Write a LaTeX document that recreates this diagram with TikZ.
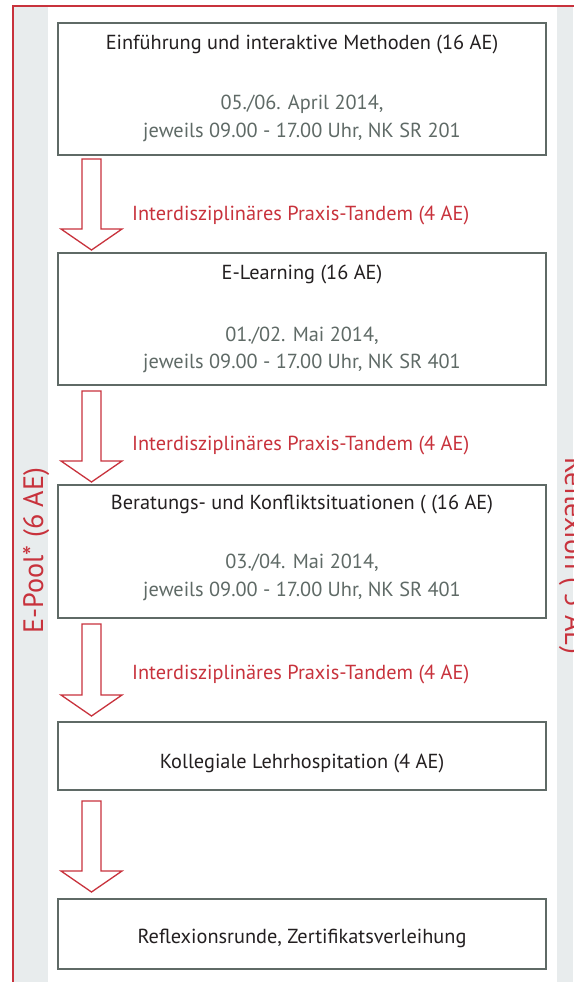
\documentclass[tikz,border=0pt]{standalone}
\usepackage{fontspec}
\setmainfont{PT Sans}
\usetikzlibrary{calc}
\definecolor{fred}{HTML}{C8323C}
\definecolor{bgray}{HTML}{5F6A66}
\definecolor{band}{HTML}{E8ECED}
\definecolor{ink}{HTML}{231F20}
\newlength\calw
\AtBeginDocument{%
  \settowidth\calw{\fontsize{20}{24}\selectfont Einführung und interaktive Methoden (16 AE)jeweils 09.00 - 17.00 Uhr, NK SR 201}%
  \pgfmathsetmacro\fsmain{20*710/\calw}\global\let\fsmain\fsmain
  \settowidth\calw{\fontsize{20}{24}\selectfont E-Pool* (6 AE)Reflexion ( 5 AE)}%
  \pgfmathsetmacro\fsside{20*363/\calw}\global\let\fsside\fsside}
\newcommand\flowarrow[4]{%
  \path ($(#1.south west)+(24.5,#3)$) coordinate (#1-sa)
        ($(#1.south west)+(43.5,#3)$) coordinate (#1-sb)
        ($(#2.north west)+(34,-#4)$) coordinate (#1-tip);
  \draw[blockarr] (#1-sa) -- ($(#1-tip)+(-9.5,-21)$) -- ($(#1-tip)+(-30.5,-21)$)
     -- (#1-tip) -- ($(#1-tip)+(30.5,-21)$) -- ($(#1-tip)+(9.5,-21)$) -- (#1-sb) -- cycle;}
\begin{document}
\begin{tikzpicture}[x=1pt,y=-1pt,
  box/.style={draw=bgray,line width=2pt,fill=white,minimum width=488.5pt,
    inner sep=0pt,outer sep=0pt,anchor=north west},
  ttl/.style={font=\fontsize{\fsmain}{\fsmain}\selectfont,text=ink,anchor=base,inner sep=0pt},
  dat/.style={font=\fontsize{\fsmain}{\fsmain}\selectfont,text=bgray,anchor=base,inner sep=0pt},
  lbl/.style={font=\fontsize{\fsmain}{\fsmain}\selectfont,text=fred,anchor=base west,inner sep=0pt},
  side/.style={font=\fontsize{\fsside}{\fsside}\selectfont,text=fred,anchor=base,inner sep=0pt},
  blockarr/.style={draw=fred,line width=1.3pt,fill=white,line join=miter}]
\useasboundingbox (0,0) rectangle (573,982);
\fill[white] (0,0) rectangle (573,982);
% side bands
\fill[band] (14,7.3) rectangle (48,982);
\fill[band] (557,7.3) rectangle (573,982);
% red frame
\draw[fred,line width=2pt] (13,990) -- (13,6.3) -- (580,6.3);
% boxes
\node[box,minimum height=132pt] (b1) at (57.5,23) {};
\node[box,minimum height=132pt] (b2) at (57.5,253) {};
\node[box,minimum height=133pt] (b3) at (57.5,485) {};
\node[box,minimum height=68pt] (b4) at (57.5,722) {};
\node[box,minimum height=70pt] (b5) at (57.5,899) {};
% box texts
\node[ttl] (t1) at (302,49) {Einführung und interaktive Methoden (16 AE)};
\node[dat] (d1a) at (302,109) {05./06. April 2014,};
\node[dat] (d1b) at (302,137) {jeweils 09.00 - 17.00 Uhr, NK SR 201};
\node[ttl] (t2) at (302,279) {E-Learning (16 AE)};
\node[dat] (d2a) at (302,341) {01./02. Mai 2014,};
\node[dat] (d2b) at (302,368) {jeweils 09.00 - 17.00 Uhr, NK SR 401};
\node[ttl] (t3) at (302,509) {Beratungs- und Konfliktsituationen ( (16 AE)};
\node[dat] (d3a) at (302,568) {03./04. Mai 2014,};
\node[dat] (d3b) at (302,596.7) {jeweils 09.00 - 17.00 Uhr, NK SR 401};
\node[ttl] (t4) at (302,768) {Kollegiale Lehrhospitation (4 AE)};
\node[ttl] (t5) at (302,943) {Reflexionsrunde, Zertifikatsverleihung};
% arrows
\flowarrow{b1}{b2}{4}{3}
\flowarrow{b2}{b3}{6}{3}
\flowarrow{b3}{b4}{6}{6}
\flowarrow{b4}{b5}{11}{7}
% arrow labels
\node[lbl] (l1) at (132,220) {Interdisziplinäres Praxis-Tandem (4 AE)};
\node[lbl] (l2) at (132,450) {Interdisziplinäres Praxis-Tandem (4 AE)};
\node[lbl] (l3) at (132,679.3) {Interdisziplinäres Praxis-Tandem (4 AE)};
% side texts
\node[side,rotate=90] (ep) at (43,550.5) {E-Pool* (6 AE)};
\node[side,rotate=-90] (rf) at (565,556) {Reflexion ( 5 AE)};
\end{tikzpicture}
\end{document}
